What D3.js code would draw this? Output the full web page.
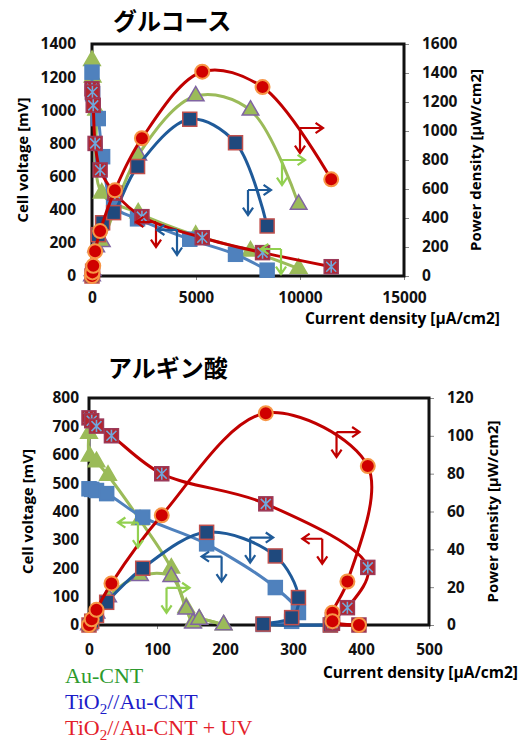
<!DOCTYPE html>
<html>
<head>
<meta charset="utf-8">
<script src="https://cdn.jsdelivr.net/npm/d3@7"></script>
<style>
body { margin: 0; background: #fff; }
</style>
</head>
<body>
<svg id="fig" width="521" height="745"></svg>
<script>
// グルコース : current density [uA/cm2], cell voltage [mV], power density [uW/cm2]
var gluCntI = [0, 30, 200, 470, 2220, 4985, 7620, 9935];
var gluCntV = [1300, 1200, 1000, 500, 380, 245, 150, 45];
var gluCntP = [0, 36, 200, 237, 834, 1241, 1143, 494];

var gluTiI = [0, 30, 300, 510, 1040, 2190, 4700, 6900, 8420];
var gluTiV = [1230, 1100, 950, 720, 420, 345, 222, 131, 35];
var gluTiP = [0, 33, 285, 367, 437, 755, 1081, 919, 345];

var gluUvI = [0, 20, 60, 150, 390, 1100, 2400, 5300, 8200, 11500];
var gluUvV = [1130, 1110, 1030, 800, 640, 500, 358, 231, 141, 56];
var gluUvP = [0, 25, 70, 170, 310, 591, 950, 1409, 1303, 667];

// アルギン酸
var algCntI = [0, 1, 11, 28, 75, 121, 143, 153, 162, 198];
var algCntV = [675, 595, 575, 527, 370, 200, 61, 10, 20, 0];
var algCntP = [0, 0.6, 6.3, 14.8, 26, 25.5, 8.3, 1, 3, 0];

var algTiI = [0, 4, 11, 26, 79, 173, 274, 308, 298, 256, 355];
var algTiV = [480, 478, 474, 463, 380, 286, 132, 44, 13, 2, 0];
var algTiP = [0, 2, 5, 12, 30, 49, 36.5, 14.5, 3.9, 0.5, 0];

var algUvI = [0, 4, 11, 33, 107, 260, 410, 380, 358, 358, 397];
var algUvV = [730, 720, 701, 667, 533, 427, 203, 61, 18, 6, 0];
var algUvP = [0, 3, 8, 22, 58, 112, 84, 23, 6.5, 2, 0];

// tick labels
var gluITicks = [0, 5000, 10000, 15000];
var gluVTicks = [0, 200, 400, 600, 800, 1000, 1200, 1400];
var gluPTicks = [0, 200, 400, 600, 800, 1000, 1200, 1400, 1600];
var algITicks = [0, 100, 200, 300, 400, 500];
var algVTicks = [0, 100, 200, 300, 400, 500, 600, 700, 800];
var algPTicks = [0, 20, 40, 60, 80, 100, 120];

// "which axis" arrows, anchored in data units [current, voltage, kind, series]
var gluArrows = [[10000, 893, 'R', 2], [9135, 700, 'R', 0], [7500, 519, 'R', 1],
                 [3077, 326, 'L', 2], [4087, 278, 'L', 1], [9087, 163, 'L', 0]];
var algArrows = [[364, 680, 'R', 2], [343, 304, 'L', 2], [237, 308, 'R', 1],
                 [195, 241, 'L', 1], [72, 361, 'L', 0], [114, 131, 'R', 0]];

var legendNames = ['Au-CNT', 'TiO2//Au-CNT', 'TiO2//Au-CNT  + UV'];

var arrowColors = ['#92d050', '#1f5b99', '#c00000'];
var legendColors = ['#2e9a2e', '#1c1cc8', '#e3202a'];

var svg = d3.select('#fig');

var charts = [
    {title: 'グルコース', titleX: 113, titleY: 30,
     left: 92, right: 404, top: 44, bottom: 276,
     iMax: 15000, vMax: 1400, pMax: 1600,
     iTicks: gluITicks, vTicks: gluVTicks, pTicks: gluPTicks,
     leftPad: 16, bottomPad: 16, vTitleX: 24, pTitleX: 477, xTitleX: 500, xTitleY: 320,
     series: [[gluCntI, gluCntV, gluCntP], [gluTiI, gluTiV, gluTiP], [gluUvI, gluUvV, gluUvP]],
     arrows: gluArrows},
    {title: 'アルギン酸', titleX: 108, titleY: 377,
     left: 89, right: 429, top: 398, bottom: 625,
     iMax: 500, vMax: 800, pMax: 120,
     iTicks: algITicks, vTicks: algVTicks, pTicks: algPTicks,
     leftPad: 10, bottomPad: 19, vTitleX: 29, pTitleX: 494, xTitleX: 518, xTitleY: 674,
     series: [[algCntI, algCntV, algCntP], [algTiI, algTiV, algTiP], [algUvI, algUvV, algUvP]],
     arrows: algArrows}
];

// line + marker styles per series: Au-CNT, TiO2//Au-CNT, TiO2//Au-CNT + UV
var styles = [
    {vLine: '#9bbb59', pLine: '#9bbb59', vShape: 'tri', pShape: 'tri',
     vFill: '#9bbb59', vStroke: '#9bbb59', pFill: '#9bbb59', pStroke: '#8064a2'},
    {vLine: '#4f81bd', pLine: '#1f5a99', vShape: 'sq', pShape: 'sq',
     vFill: '#4f81bd', vStroke: '#4f81bd', pFill: '#1f497d', pStroke: '#c0504d'},
    {vLine: '#c00000', pLine: '#c00000', vShape: 'sqx', pShape: 'circ',
     vFill: '#b3262e', vStroke: '#9b3a5a', pFill: '#d00000', pStroke: '#f79646'}
];

function drawMarkers(g, pts, shape, fill, stroke) {
    var m = g.append('g');
    pts.forEach(function(p) {
        if (shape == 'tri') {
            m.append('path')
                .attr('d', d3.symbol(d3.symbolTriangle, 120)())
                .attr('transform', `translate(${p[0]},${p[1]})`)
                .attr('fill', fill).attr('stroke', stroke).attr('stroke-width', 1.5);
        } else if (shape == 'circ') {
            m.append('circle')
                .attr('cx', p[0]).attr('cy', p[1]).attr('r', 7)
                .attr('fill', fill).attr('stroke', stroke).attr('stroke-width', 2);
        } else {
            m.append('rect')
                .attr('x', p[0] - 7).attr('y', p[1] - 7)
                .attr('width', 14).attr('height', 14)
                .attr('fill', fill).attr('stroke', stroke).attr('stroke-width', 1.5);
            if (shape == 'sqx') {
                m.append('path')
                    .attr('d', `M${p[0]-5},${p[1]-5}L${p[0]+5},${p[1]+5}M${p[0]-5},${p[1]+5}L${p[0]+5},${p[1]-5}M${p[0]},${p[1]-6}L${p[0]},${p[1]+6}`)
                    .attr('stroke', '#6fa8dc').attr('stroke-width', 1.6);
            }
        }
    });
}

function arrow(g, x1, y1, x2, y2, color) {
    var a = Math.atan2(y2 - y1, x2 - x1), h = 9, s = 0.6;
    g.append('path')
        .attr('d', `M${x1},${y1}L${x2},${y2}` +
            `M${x2 - h*Math.cos(a - s)},${y2 - h*Math.sin(a - s)}L${x2},${y2}` +
            `L${x2 - h*Math.cos(a + s)},${y2 - h*Math.sin(a + s)}`)
        .attr('fill', 'none').attr('stroke', color).attr('stroke-width', 2.2);
}

charts.forEach(function(c) {
    var g = svg.append('g');
    var x = d3.scaleLinear().domain([0, c.iMax]).range([c.left, c.right]);
    var yV = d3.scaleLinear().domain([0, c.vMax]).range([c.bottom, c.top]);
    var yP = d3.scaleLinear().domain([0, c.pMax]).range([c.bottom, c.top]);
    var fmt = d3.format('d');

    // axes
    var ax = g.append('g').attr('transform', `translate(${c.left},0)`)
        .call(d3.axisLeft(yV).tickValues(c.vTicks).tickFormat(fmt).tickSize(0).tickPadding(c.leftPad));
    var ax2 = g.append('g').attr('transform', `translate(${c.right},0)`)
        .call(d3.axisRight(yP).tickValues(c.pTicks).tickFormat(fmt).tickSize(5).tickPadding(13));
    var ax3 = g.append('g').attr('transform', `translate(0,${c.bottom})`)
        .call(d3.axisBottom(x).tickValues(c.iTicks).tickFormat(fmt).tickSize(4).tickPadding(c.bottomPad - 4));
    [ax, ax2, ax3].forEach(function(a) {
        a.select('.domain').remove();
        a.selectAll('line').attr('stroke', '#888');
        a.selectAll('text')
            .attr('font-family', '"Open Sans", sans-serif')
            .attr('font-weight', 700).attr('font-size', 15.5).attr('fill', '#111');
    });

    g.append('rect')
        .attr('x', c.left).attr('y', c.top)
        .attr('width', c.right - c.left).attr('height', c.bottom - c.top)
        .attr('fill', 'none').attr('stroke', '#111').attr('stroke-width', 3);

    // series
    var line = d3.line().curve(d3.curveCatmullRom.alpha(0.5));
    c.series.forEach(function(s, k) {
        var st = styles[k];
        var vPts = s[0].map(function(d, i) { return [x(d), yV(s[1][i])]; });
        var pPts = s[0].map(function(d, i) { return [x(d), yP(s[2][i])]; });
        g.append('path').attr('d', line(vPts))
            .attr('fill', 'none').attr('stroke', st.vLine).attr('stroke-width', 3);
        drawMarkers(g, vPts, st.vShape, st.vFill, st.vStroke);
        g.append('path').attr('d', line(pPts))
            .attr('fill', 'none').attr('stroke', st.pLine).attr('stroke-width', 3);
        drawMarkers(g, pPts, st.pShape, st.pFill, st.pStroke);
    });

    // arrows
    c.arrows.forEach(function(a) {
        var px = x(a[0]), py = yV(a[1]), col = arrowColors[a[3]];
        if (a[2] == 'R') arrow(g, px, py, px + 23, py, col);
        else arrow(g, px, py, px - 20, py, col);
        arrow(g, px, py, px, py + 25, col);
    });

    // titles
    g.append('text')
        .attr('x', c.titleX).attr('y', c.titleY)
        .attr('font-family', '"Noto Sans CJK JP", sans-serif')
        .attr('font-weight', 700).attr('font-size', 24)
        .text(c.title);
    var mid = (c.top + c.bottom) / 2;
    g.append('text')
        .attr('transform', `translate(${c.vTitleX},${mid}) rotate(-90)`)
        .attr('text-anchor', 'middle').attr('dominant-baseline', 'middle')
        .attr('font-family', '"Open Sans", sans-serif')
        .attr('font-weight', 700).attr('font-size', 15)
        .text('Cell voltage [mV]');
    g.append('text')
        .attr('transform', `translate(${c.pTitleX},${mid}) rotate(-90)`)
        .attr('text-anchor', 'middle').attr('dominant-baseline', 'middle')
        .attr('font-family', '"Open Sans", sans-serif')
        .attr('font-weight', 700).attr('font-size', 15)
        .text('Power density [μW/cm2]');
    g.append('text')
        .attr('x', c.xTitleX).attr('y', c.xTitleY)
        .attr('text-anchor', 'end').attr('dominant-baseline', 'middle')
        .attr('font-family', '"Open Sans", sans-serif')
        .attr('font-weight', 700).attr('font-size', 15.5)
        .text('Current density [μA/cm2]');
});

// legend (text only, in series colours)
var leg = svg.append('g')
    .attr('font-family', '"Liberation Serif", "Times New Roman", serif')
    .attr('font-size', 22);
legendNames.forEach(function(n, i) {
    var t = leg.append('text')
        .attr('x', 65).attr('y', 683 + i * 26)
        .attr('fill', legendColors[i]);
    var parts = n.split('O2');
    if (parts.length > 1) {
        t.append('tspan').text(parts[0] + 'O');
        t.append('tspan').attr('font-size', 15).attr('dy', 5).text('2');
        t.append('tspan').attr('dy', -5).text(parts[1]);
    } else {
        t.text(n);
    }
});
</script>
</body>
</html>
